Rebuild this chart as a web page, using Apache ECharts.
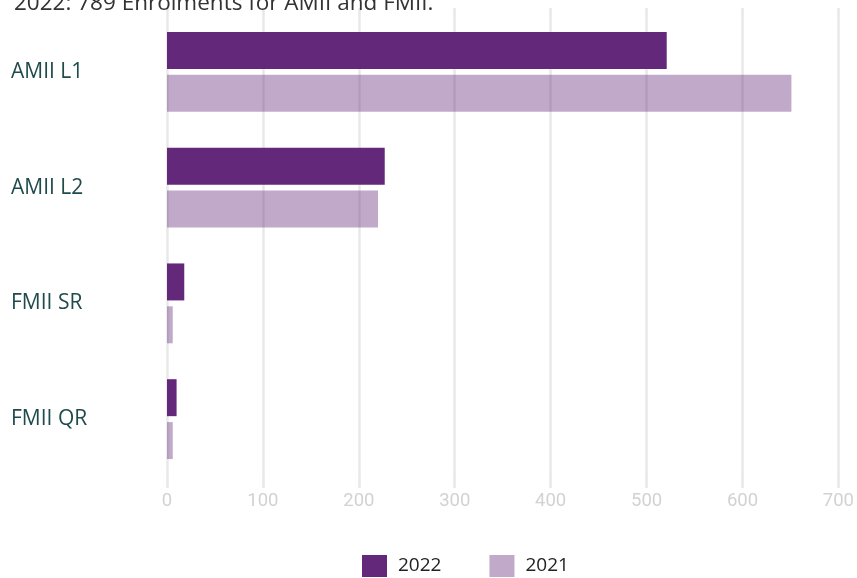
<!DOCTYPE html>
<html>
<head>
<meta charset="utf-8">
<script src="https://cdn.jsdelivr.net/npm/echarts@6/dist/echarts.min.js"></script>
<style>html,body{margin:0;padding:0;background:#fff}#c{width:857px;height:578px}</style>
</head>
<body>
<div id="c"></div>
<script>
const titleText = "2022: 789 Enrolments for AMII and FMII.";
const categories = ["AMII L1", "AMII L2", "FMII SR", "FMII QR"];
const values2022 = [521, 227, 18, 10];
const values2021 = [651, 220, 6, 6];
const seriesNames = ["2022", "2021"];
const xTicks = { min: 0, max: 700, interval: 100 };

const chart = echarts.init(document.getElementById('c'), null, { renderer: 'canvas' });
const purple = '#63287a';
chart.setOption({
  animation: false,
  title: {
    text: titleText, left: 9, top: -13,
    textStyle: { fontFamily: 'Open Sans', fontSize: 22.5, fontWeight: 'normal', color: '#333' }
  },
  legend: {
    bottom: -4, left: 357, icon: 'rect',
    itemWidth: 25, itemHeight: 22, itemGap: 48,
    textStyle: { fontFamily: 'Open Sans', fontSize: 19, color: '#222', padding: [0, 0, 0, 6] },
    data: seriesNames
  },
  grid: { left: 167, right: 17, top: 14, bottom: 101 },
  xAxis: [{
    type: 'value', min: xTicks.min, max: xTicks.max, interval: xTicks.interval,
    axisLine: { show: false },
    axisTick: { show: true, length: 11, lineStyle: { color: '#e8e8e8', width: 2.5 } },
    splitLine: { show: true, lineStyle: { color: '#e8e8e8', width: 2.5 } },
    axisLabel: { fontFamily: 'Roboto', fontSize: 18.5, color: '#d2d2d2', margin: 15 }
  }, {
    type: 'value', position: 'top', min: xTicks.min, max: xTicks.max, interval: xTicks.interval,
    axisLine: { show: false },
    axisTick: { show: true, length: 6, lineStyle: { color: '#e8e8e8', width: 2.5 } },
    splitLine: { show: false },
    axisLabel: { show: false }
  }],
  yAxis: {
    type: 'category', data: categories, inverse: true,
    axisLine: { show: false }, axisTick: { show: false },
    axisLabel: { align: 'left', margin: 156, fontFamily: 'Open Sans', fontSize: 21, color: '#1f4b4c' }
  },
  series: [
    { name: seriesNames[0], type: 'bar', data: values2022, barGap: '16%', barCategoryGap: '31%',
      itemStyle: { color: purple } },
    { name: seriesNames[1], type: 'bar', data: values2021, barGap: '16%', barCategoryGap: '31%',
      itemStyle: { color: purple, opacity: 0.4 } }
  ]
});
</script>
</body>
</html>
